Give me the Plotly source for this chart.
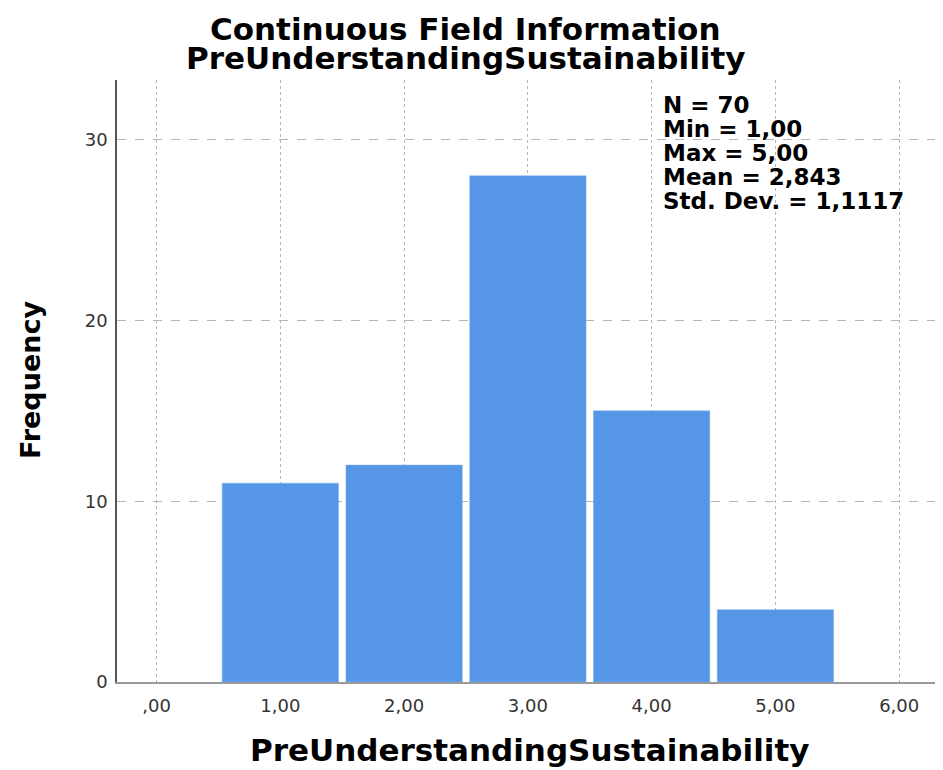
import plotly.graph_objects as go

# %% Data
bins = [1, 2, 3, 4, 5]
counts = [11, 12, 28, 15, 4]
x_ticks = [0, 1, 2, 3, 4, 5, 6]
x_tick_labels = [',00', '1,00', '2,00', '3,00', '4,00', '5,00', '6,00']
y_ticks = [0, 10, 20, 30]
title_lines = ['Continuous Field Information', 'PreUnderstandingSustainability']
stats_lines = ['N = 70', 'Min = 1,00', 'Max = 5,00', 'Mean = 2,843', 'Std. Dev. = 1,1117']

bar_color = '#5596E6'
font = 'DejaVu Sans, sans-serif'

# %% Layout in pixels (page body adds an 8px margin, so the figure is 8px smaller)
OFF = 8
W, H = 943 - OFF, 770 - OFF
L, R, T, B = 117 - OFF, 3, 80 - OFF, 88
pw, ph = W - L - R, H - T - B

def px(x):  # screen pixel x -> paper x
    return (x - OFF - L) / pw

def py(y):  # screen pixel y -> paper y
    return (H - B - (y - OFF)) / ph

fig = go.Figure()
fig.add_trace(go.Bar(x=bins, y=counts, width=0.94,
                     marker=dict(color=bar_color, line=dict(color='#7fb0ee', width=0.5))))

fig.update_layout(
    width=W, height=H,
    margin=dict(l=L, r=R, t=T, b=B, autoexpand=False),
    paper_bgcolor='white', plot_bgcolor='white',
    showlegend=False,
)

fig.update_xaxes(range=[-0.32, 6.33], tickvals=x_ticks, ticktext=x_tick_labels, automargin=False,
                 showgrid=True, gridcolor='#b5b5b5', griddash='dot', gridwidth=1,
                 showline=True, linecolor='#999999', linewidth=2, zeroline=False,
                 ticks='', ticklabelstandoff=6, tickfont=dict(family=font, size=18, color='#333333'))
fig.update_yaxes(range=[0, 33.3], tickvals=y_ticks, automargin=False,
                 showgrid=True, gridcolor='#b5b5b5', griddash='dash', gridwidth=1,
                 showline=True, linecolor='#555555', linewidth=1.5, zeroline=False,
                 ticks='', ticklabelstandoff=4, tickfont=dict(family=font, size=18, color='#333333'))

# title, two lines placed separately for tight spacing
for i, line in enumerate(title_lines):
    fig.add_annotation(text=f'<b>{line}</b>', xref='paper', yref='paper',
                       x=px(465), y=py(29 + 29 * i), xanchor='center', yanchor='middle',
                       showarrow=False, font=dict(family=font, size=31, color='black'))

# axis titles
fig.add_annotation(text='<b>PreUnderstandingSustainability</b>', xref='paper', yref='paper',
                   x=px(529), y=py(750), xanchor='center', yanchor='middle', showarrow=False,
                   font=dict(family=font, size=31, color='black'))
fig.add_annotation(text='<b>Frequency</b>', xref='paper', yref='paper', textangle=-90,
                   x=px(30), y=py(380), xanchor='center', yanchor='middle', showarrow=False,
                   font=dict(family=font, size=27, color='black'))

# stats box
for i, line in enumerate(stats_lines):
    fig.add_annotation(text=f'<b>{line}</b>', xref='paper', yref='paper',
                       x=px(661), y=py(105 + 24 * i), xanchor='left', yanchor='middle',
                       showarrow=False, font=dict(family=font, size=23, color='black'))

fig.write_html('out.html')
